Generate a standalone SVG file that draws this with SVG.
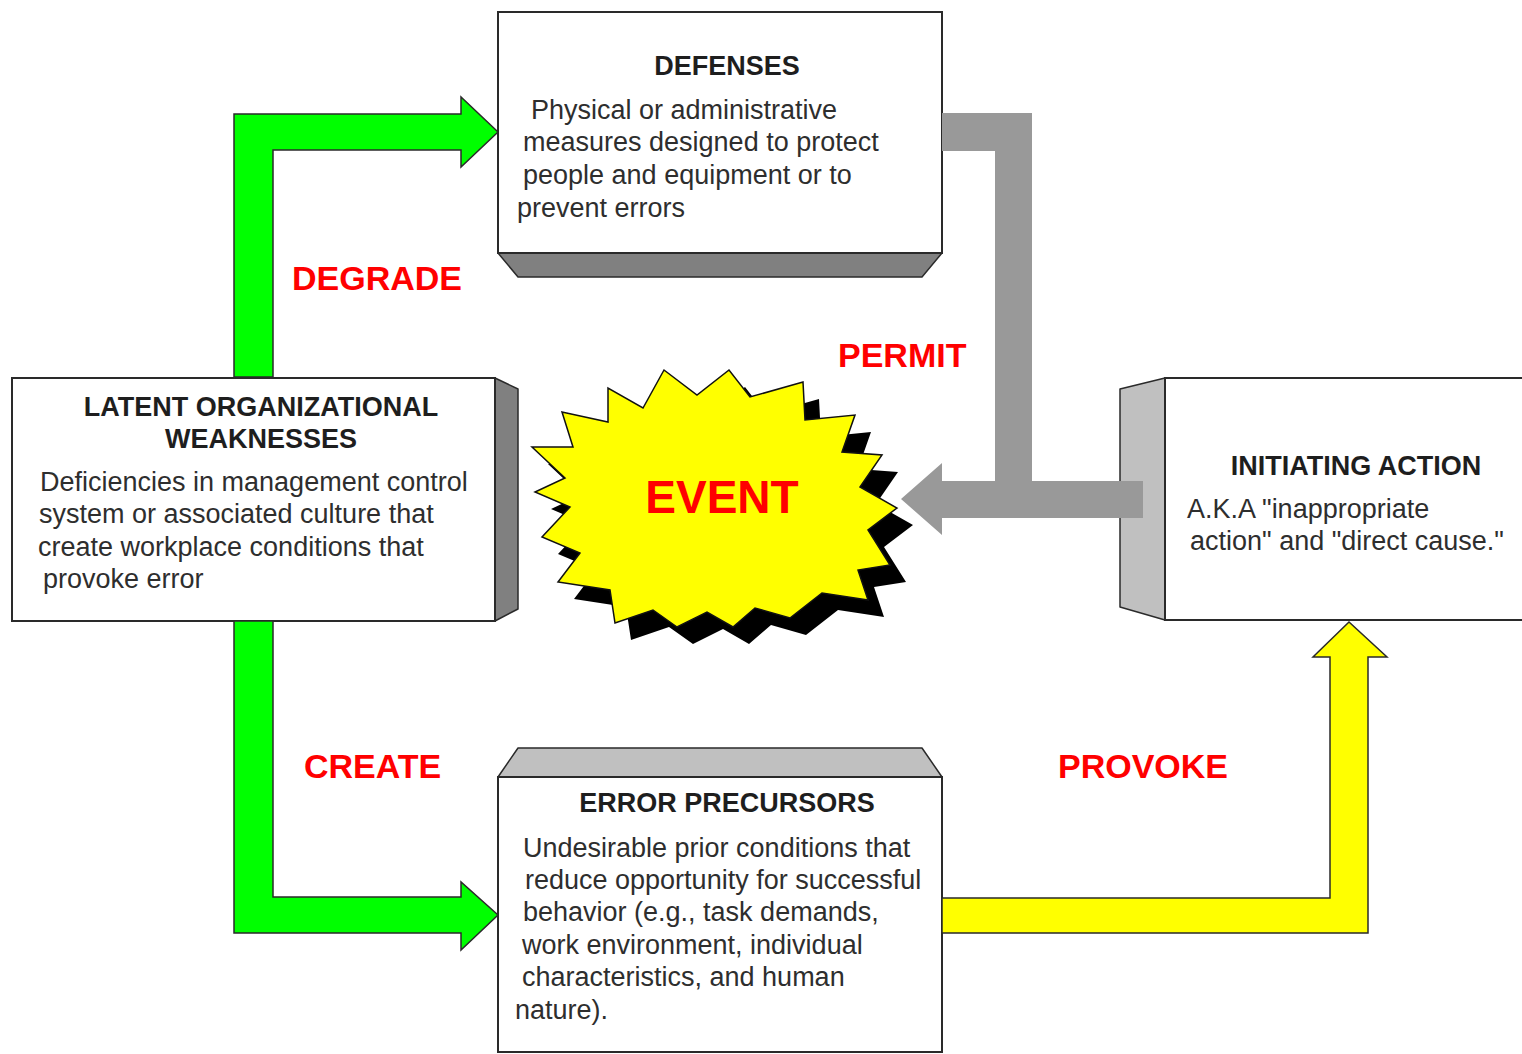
<svg xmlns="http://www.w3.org/2000/svg" width="1522" height="1054" viewBox="0 0 1522 1054">
  <style>
    .box { fill: #ffffff; stroke: #2a2a2a; stroke-width: 2; }
    .bevel-dark { fill: #808080; stroke: #2a2a2a; stroke-width: 1.5; stroke-linejoin: round; }
    .bevel-light { fill: #c0c0c0; stroke: #2a2a2a; stroke-width: 1.5; stroke-linejoin: round; }
    .title { font-family: "Liberation Sans", Arial, sans-serif; font-weight: bold; font-size: 27px; fill: #1e1e1e; text-anchor: middle; }
    .body { font-family: "Liberation Sans", Arial, sans-serif; font-size: 27px; fill: #2e2e2e; }
    .verb { font-family: "Liberation Sans", Arial, sans-serif; font-weight: bold; font-size: 34px; fill: #ff0000; }
    .green { fill: #00ff00; stroke: #2a2a2a; stroke-width: 1.5; stroke-linejoin: miter; }
    .yellow { fill: #ffff00; stroke: #2a2a2a; stroke-width: 1.5; stroke-linejoin: miter; }
    .grey { fill: #999999; }
  </style>
  <defs>
    <polygon id="burst" points="664,370 697,395 729,370 750,397 803,382 805,420 855,415 842,452 882,455 860,487 897,508 868,530 890,565 858,570 868,600 822,593 790,618 755,608 733,627 707,612 677,627 653,610 615,623 610,590 558,582 580,553 542,537 570,507 535,492 565,478 532,447 573,447 562,412 608,422 608,388 643,408"/>
  </defs>

  <rect width="1522" height="1054" fill="#ffffff"/>

  <!-- Defenses -->
  <g id="defenses">
    <polygon class="bevel-dark" points="498,253 942,253 922,277 518,277"/>
    <rect class="box" x="498" y="12" width="444" height="241"/>
    <text class="title" x="727" y="75">DEFENSES</text>
    <text class="body" x="531" y="119">Physical or administrative</text>
    <text class="body" x="523" y="151">measures designed to protect</text>
    <text class="body" x="523" y="184">people and equipment or to</text>
    <text class="body" x="517" y="217">prevent errors</text>
  </g>

  <!-- Latent organizational weaknesses -->
  <g id="latent">
    <polygon class="bevel-dark" points="495,378 518,389 518,609 495,621"/>
    <rect class="box" x="12" y="378" width="483" height="243"/>
    <text class="title" x="261" y="416">LATENT ORGANIZATIONAL</text>
    <text class="title" x="261" y="448">WEAKNESSES</text>
    <text class="body" x="40" y="491">Deficiencies in management control</text>
    <text class="body" x="39" y="523">system or associated culture that</text>
    <text class="body" x="38" y="556">create workplace conditions that</text>
    <text class="body" x="43" y="588">provoke error</text>
  </g>

  <!-- Event burst -->
  <g id="event">
    <use href="#burst" transform="translate(16,17)" fill="#000000"/>
    <use href="#burst" fill="#ffff00" stroke="#111111" stroke-width="1.5" stroke-linejoin="miter"/>
    <text x="722" y="513" text-anchor="middle" font-family="'Liberation Sans', Arial, sans-serif" font-weight="bold" font-size="46" fill="#ff0000">EVENT</text>
  </g>

  <!-- Initiating action -->
  <g id="initiating">
    <polygon class="bevel-light" points="1165,378 1120,389 1120,607 1165,620"/>
    <rect class="box" x="1165" y="378" width="370" height="242"/>
    <text class="title" x="1356" y="475">INITIATING ACTION</text>
    <text class="body" x="1187" y="518">A.K.A "inappropriate</text>
    <text class="body" x="1190" y="550">action" and "direct cause."</text>
  </g>

  <!-- Error precursors -->
  <g id="precursors">
    <polygon class="bevel-light" points="498,777 518,748 922,748 942,777"/>
    <rect class="box" x="498" y="777" width="444" height="275"/>
    <text class="title" x="727" y="812">ERROR PRECURSORS</text>
    <text class="body" x="523" y="857">Undesirable prior conditions that</text>
    <text class="body" x="525" y="889">reduce opportunity for successful</text>
    <text class="body" x="523" y="921">behavior (e.g., task demands,</text>
    <text class="body" x="522" y="954">work environment, individual</text>
    <text class="body" x="522" y="986">characteristics, and human</text>
    <text class="body" x="515" y="1019">nature).</text>
  </g>

  <!-- Connectors -->
  <g id="connectors">
    <polygon class="green" points="234,377 234,114 461,114 461,97 498,132 461,167 461,150 273,150 273,377"/>
    <polygon class="green" points="234,621 273,621 273,897 461,897 461,882 498,915 461,950 461,933 234,933"/>
    <polygon class="yellow" points="942,898 1330,898 1330,657 1313,657 1349,622 1387,657 1368,657 1368,933 942,933"/>
    <polygon class="grey" points="942,113 1032,113 1032,481 1143,481 1143,518 942,518 942,535 901,499 942,463 942,481 995,481 995,151 942,151"/>
    <text class="verb" x="292" y="290">DEGRADE</text>
    <text class="verb" x="838" y="367">PERMIT</text>
    <text class="verb" x="304" y="778">CREATE</text>
    <text class="verb" x="1058" y="778">PROVOKE</text>
  </g>
</svg>
